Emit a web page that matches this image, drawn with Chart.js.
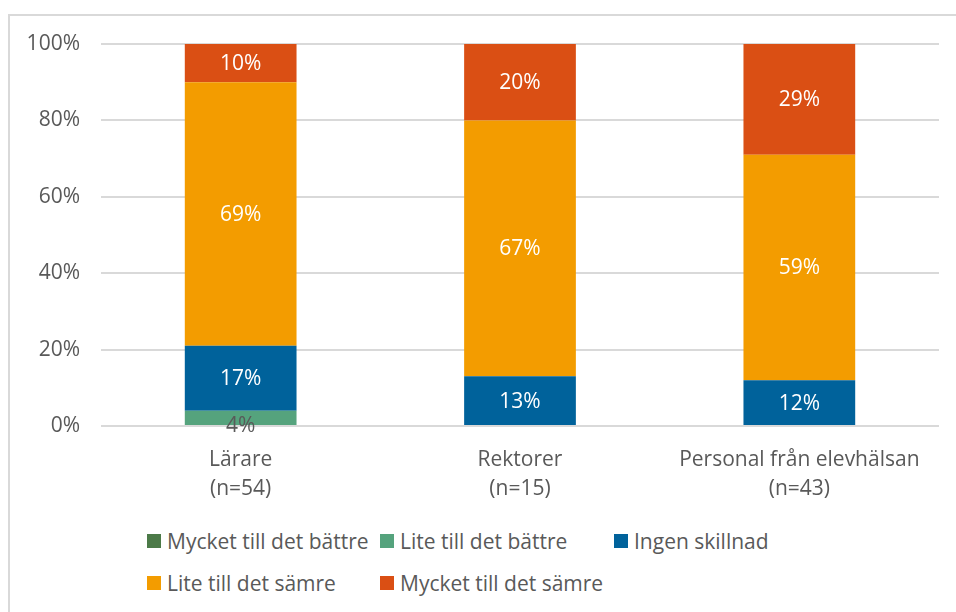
<!DOCTYPE html>
<html lang="sv">
<head>
    <meta charset="UTF-8">
    <title>Förändring</title>
    <script src="https://cdn.jsdelivr.net/npm/chart.js"></script>
    <style>
        html, body { margin: 0; padding: 0; background: #fff; overflow: hidden; }
        body { width: 956px; height: 612px; position: relative; font-family: 'Open Sans', sans-serif; }
        .frame {
            position: absolute; left: 8px; top: 14px; width: 980px; height: 640px;
            border: 2px solid #d9d9d9; box-sizing: border-box;
        }
        .chart-box { position: absolute; left: 0; top: 0; width: 956px; height: 520px; }
        .legend {
            position: absolute; left: 147px; top: 527px;
            display: grid; grid-template-columns: 233px 234px auto; row-gap: 14px;
            font-size: 21px; color: #595959;
        }
        .legend span { display: flex; align-items: center; height: 28px; white-space: nowrap; }
        .legend i { display: inline-block; width: 14px; height: 14px; margin-right: 6px; }
    </style>
</head>
<body>
    <div class="frame"></div>
    <div class="chart-box"><canvas id="chart"></canvas></div>
    <div class="legend" id="legend"></div>

    <script>
        // Kategorier och serier (procent)
        const categories = [['Lärare', '(n=54)'], ['Rektorer', '(n=15)'], ['Personal från elevhälsan', '(n=43)']];
        const seriesNames = ['Mycket till det bättre', 'Lite till det bättre', 'Ingen skillnad', 'Lite till det sämre', 'Mycket till det sämre'];
        const muchBetter = [0, 0, 0];
        const littleBetter = [4, 0, 0];
        const noDifference = [17, 13, 12];
        const littleWorse = [69, 67, 59];
        const muchWorse = [10, 20, 29];
        const yTicks = [0, 20, 40, 60, 80, 100];

        const colors = ['#4c7a48', '#55a37d', '#00629b', '#f39c00', '#da4f14'];
        const values = [muchBetter, littleBetter, noDifference, littleWorse, muchWorse];
        const font = { family: "'Open Sans', sans-serif", size: 21 };

        // Etiketter i staplarna
        const barLabels = {
            id: 'barLabels',
            afterDatasetsDraw(chart) {
                const ctx = chart.ctx;
                ctx.save();
                ctx.font = font.size + 'px ' + font.family;
                ctx.textAlign = 'center';
                ctx.textBaseline = 'middle';
                chart.data.datasets.forEach((ds, i) => {
                    chart.getDatasetMeta(i).data.forEach((bar, j) => {
                        const v = ds.data[j];
                        if (!v) return;
                        if (v < 5) {
                            ctx.fillStyle = '#595959';
                            ctx.fillText(v + '%', bar.x, bar.base + 1);
                        } else {
                            ctx.fillStyle = '#ffffff';
                            ctx.fillText(v + '%', bar.x, (bar.y + bar.base) / 2 + 1);
                        }
                    });
                });
                ctx.restore();
            }
        };

        const chart = new Chart(document.getElementById('chart'), {
            type: 'bar',
            data: {
                labels: categories,
                datasets: seriesNames.map((name, i) => ({
                    label: name,
                    data: values[i],
                    backgroundColor: colors[i],
                    categoryPercentage: 1,
                    barPercentage: 0.4
                }))
            },
            options: {
                responsive: true,
                maintainAspectRatio: false,
                animation: false,
                layout: { padding: { top: 44, right: 17, bottom: 0, left: 0 } },
                plugins: { legend: { display: false }, tooltip: { enabled: false } },
                scales: {
                    x: {
                        stacked: true,
                        grid: { display: false },
                        border: { display: false },
                        ticks: {
                            color: '#595959',
                            font: { family: font.family, size: font.size, lineHeight: 1.36 },
                            padding: 12,
                            maxRotation: 0
                        },
                        afterFit(scale) { scale.height = 94; }
                    },
                    y: {
                        stacked: true,
                        min: 0,
                        max: 100,
                        afterBuildTicks(scale) { scale.ticks = yTicks.map(v => ({ value: v })); },
                        afterFit(scale) { scale.width = 101; },
                        grid: { color: '#d9d9d9', lineWidth: 2, drawTicks: false },
                        border: { display: false },
                        ticks: {
                            color: '#595959',
                            font: font,
                            padding: 21,
                            callback: v => v + '%'
                        }
                    }
                }
            },
            plugins: [barLabels]
        });

        // Legend i rutnät
        const legend = document.getElementById('legend');
        seriesNames.forEach((name, i) => {
            const item = document.createElement('span');
            item.innerHTML = '<i style="background:' + colors[i] + '"></i>' + name;
            legend.appendChild(item);
        });
    </script>
</body>
</html>
